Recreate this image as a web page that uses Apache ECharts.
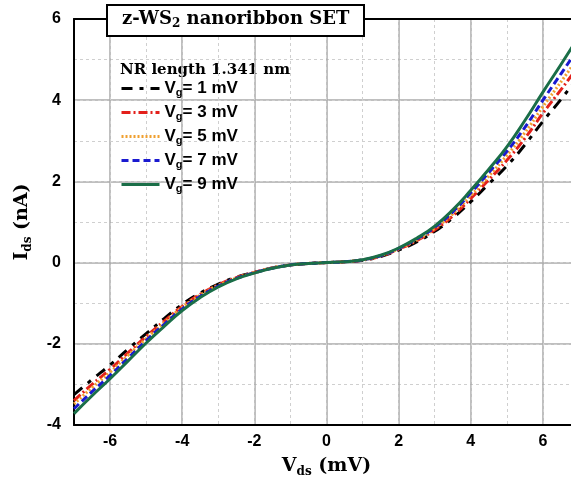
<!DOCTYPE html>
<html>
<head>
<meta charset="utf-8">
<script src="https://cdn.jsdelivr.net/npm/echarts@6/dist/echarts.min.js"></script>
<style>
  html, body { margin: 0; padding: 0; background: #fff; }
  #main { width: 571px; height: 486px; }
</style>
</head>
<body>
<div id="main"></div>
<script>
// Vds (mV) sample points
var vds = [-7, -6.5, -6, -5.5, -5, -4.5, -4, -3.5, -3, -2.5, -2, -1.5, -1, -0.5, 0,
           0.5, 1, 1.5, 2, 2.5, 3, 3.5, 4, 4.5, 5, 5.5, 6, 6.5, 7];

// Ids (nA), one array per gate voltage
var vg1 = [-3.25, -2.88, -2.52, -2.13, -1.75, -1.38, -1.03, -0.75, -0.53, -0.36, -0.24, -0.13, -0.06, -0.02, 0,
           0.02, 0.06, 0.15, 0.31, 0.51, 0.77, 1.10, 1.50, 1.94, 2.38, 2.90, 3.48, 4.02, 4.60];
var vg3 = [-3.40, -3.00, -2.63, -2.22, -1.82, -1.44, -1.08, -0.78, -0.55, -0.37, -0.24, -0.13, -0.06, -0.02, 0,
           0.02, 0.06, 0.16, 0.33, 0.54, 0.81, 1.15, 1.58, 2.04, 2.52, 3.06, 3.68, 4.26, 4.85];
var vg5 = [-3.48, -3.08, -2.70, -2.28, -1.87, -1.48, -1.10, -0.80, -0.56, -0.38, -0.25, -0.13, -0.06, -0.02, 0,
           0.02, 0.07, 0.17, 0.34, 0.56, 0.84, 1.20, 1.65, 2.13, 2.64, 3.20, 3.84, 4.45, 5.08];
var vg7 = [-3.60, -3.18, -2.78, -2.35, -1.92, -1.52, -1.14, -0.83, -0.58, -0.39, -0.25, -0.14, -0.06, -0.02, 0,
           0.02, 0.07, 0.17, 0.35, 0.58, 0.87, 1.25, 1.72, 2.22, 2.74, 3.33, 4.00, 4.65, 5.30];
var vg9 = [-3.72, -3.28, -2.86, -2.42, -1.98, -1.57, -1.18, -0.86, -0.60, -0.40, -0.26, -0.14, -0.06, -0.02, 0,
           0.02, 0.07, 0.18, 0.36, 0.60, 0.90, 1.30, 1.78, 2.30, 2.85, 3.50, 4.20, 4.88, 5.58];

var names = ['Vg= 1 mV', 'Vg= 3 mV', 'Vg= 5 mV', 'Vg= 7 mV', 'Vg= 9 mV'];
var colors = ['#000000', '#e3201b', '#f0a030', '#1a1ad0', '#1a6e48'];
var dashes = [[11, 7, 4, 7], [9, 3, 2, 3], [2, 2], [7, 4], 'solid'];
var curves = [vg1, vg3, vg5, vg7, vg9];

function pairs(ys) {
    return vds.map(function (x, i) { return [x, ys[i]]; });
}

var myChart = echarts.init(document.getElementById('main'));

var sansBold = { fontFamily: 'Liberation Sans', fontWeight: 'bold', color: '#000' };

var series = curves.map(function (ys, i) {
    return {
        name: names[i],
        type: 'line',
        data: pairs(ys),
        xAxisIndex: 0,
        yAxisIndex: 0,
        showSymbol: false,
        symbol: 'none',
        smooth: true,
        lineStyle: { color: colors[i], width: 3, type: dashes[i] },
        itemStyle: { color: colors[i] }
    };
});

// bold serif axis name with a subscript
function axisName(size) {
    return {
        rich: {
            b: { fontFamily: 'DejaVu Serif', fontWeight: 'bold', fontSize: size, color: '#000' },
            s: { fontFamily: 'DejaVu Serif', fontWeight: 'bold', fontSize: 12, color: '#000', padding: [11, 0, 0, 0] }
        }
    };
}

var option = {
    animation: false,
    color: colors,
    title: {
        text: 'z-WS{sub|2} nanoribbon SET',
        left: 107,
        top: 3,
        padding: [6, 15, 6, 15],
        borderColor: '#000',
        borderWidth: 2,
        backgroundColor: '#fff',
        z: 10,
        textStyle: {
            fontFamily: 'DejaVu Serif', fontWeight: 'bold', fontSize: 18, color: '#000',
            rich: {
                sub: { fontFamily: 'DejaVu Serif', fontWeight: 'bold', fontSize: 12, color: '#000', padding: [9, 0, 0, 0] }
            }
        }
    },
    legend: {
        orient: 'vertical',
        left: 120,
        top: 80,
        padding: 0,
        itemWidth: 38,
        itemHeight: 14,
        itemGap: 5.5,
        itemStyle: { opacity: 0 },
        lineStyle: { width: 3 },
        data: names,
        formatter: function (name) {
            return '{t|V}{s|g}{t|' + name.slice(2) + '}';
        },
        textStyle: {
            rich: {
                t: { fontFamily: 'Liberation Sans', fontWeight: 'bold', fontSize: 17, color: '#000' },
                s: { fontFamily: 'Liberation Sans', fontWeight: 'bold', fontSize: 11, color: '#000', padding: [9, 0, 0, 0] }
            }
        }
    },
    graphic: [{
        type: 'text',
        left: 120,
        top: 63,
        style: {
            text: 'NR length 1.341 nm',
            font: 'bold 15px "DejaVu Serif"',
            fill: '#000'
        }
    }],
    grid: { left: 74, right: -8, top: 19, bottom: 61, outerBoundsMode: 'none' },
    xAxis: [{
        type: 'value',
        min: -7, max: 7, interval: 1,
        position: 'bottom',
        name: '{b|V}{s|ds}{b| (mV)}',
        nameLocation: 'middle',
        nameGap: 30,
        nameTextStyle: axisName(19),
        axisLine: { onZero: false, lineStyle: { color: '#000', width: 2 } },
        axisTick: { show: false },
        axisLabel: Object.assign({
            fontSize: 16, margin: 9,
            formatter: function (v) { return v % 2 === 0 ? v : ''; }
        }, sansBold),
        splitLine: { lineStyle: { color: ['rgba(0,0,0,0)', '#aaaaaa'], width: 1.5, type: 'solid' } }
    }, {
        type: 'value',
        min: -7, max: 7, interval: 1,
        position: 'top',
        axisLine: { show: true, onZero: false, lineStyle: { color: '#000', width: 2 } },
        axisTick: { show: false },
        axisLabel: { show: false },
        splitLine: { lineStyle: { color: '#cfcfcf', width: 1, type: [3, 3] } }
    }],
    yAxis: [{
        type: 'value',
        min: -4, max: 6, interval: 1,
        position: 'left',
        name: '{b|I}{s|ds}{b| (nA)}',
        nameLocation: 'middle',
        nameGap: 40,
        nameTextStyle: axisName(19),
        axisLine: { onZero: false, lineStyle: { color: '#000', width: 2 } },
        axisTick: { show: false },
        axisLabel: Object.assign({
            fontSize: 16, margin: 13,
            formatter: function (v) { return v % 2 === 0 ? v : ''; }
        }, sansBold),
        splitLine: { lineStyle: { color: ['#aaaaaa', 'rgba(0,0,0,0)'], width: 1.5, type: 'solid' } }
    }, {
        type: 'value',
        min: -4, max: 6, interval: 1,
        position: 'right',
        axisLine: { show: false },
        axisTick: { show: false },
        axisLabel: { show: false },
        splitLine: { lineStyle: { color: '#cfcfcf', width: 1, type: [3, 3] } }
    }],
    series: series
};

myChart.setOption(option);
</script>
</body>
</html>
